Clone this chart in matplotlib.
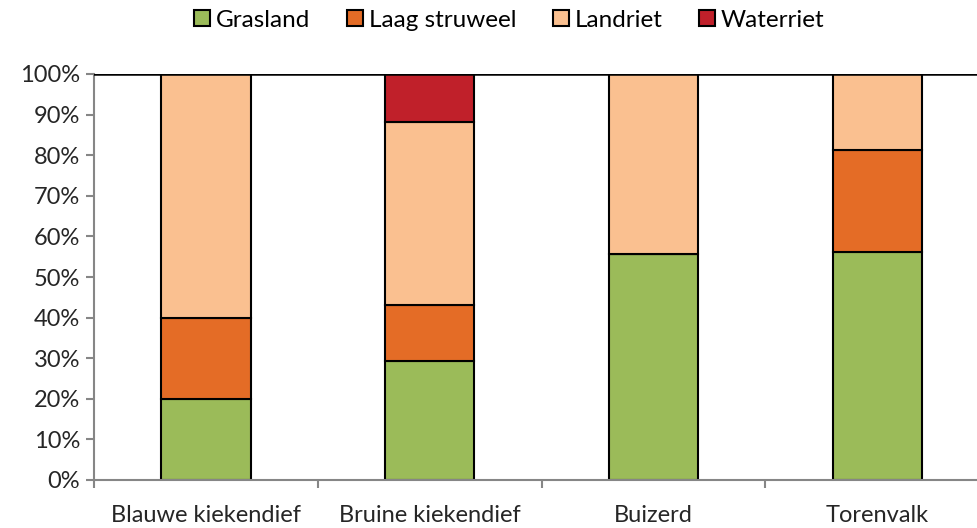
import matplotlib.pyplot as plt
import numpy as np

# Habitat use per roofvogel soort (percentage of observations)
soorten = ['Blauwe kiekendief', 'Bruine kiekendief', 'Buizerd', 'Torenvalk']
habitats = ['Grasland', 'Laag struweel', 'Landriet', 'Waterriet']
grasland = [20.0, 29.4, 55.6, 56.25]
laag_struweel = [20.0, 13.7, 0.0, 25.0]
landriet = [60.0, 45.1, 44.4, 18.75]
waterriet = [0.0, 11.8, 0.0, 0.0]

kleuren = ['#9BBB59', '#E46C26', '#FAC090', '#C0202A']

plt.rcParams['font.family'] = ['Lato', 'DejaVu Sans']

fig = plt.figure(figsize=(9.78, 5.28), dpi=100)
ax = fig.add_axes([94 / 978, 48 / 528, 884 / 978, 406 / 528])

x = np.arange(len(soorten))
onder = np.zeros(len(soorten))
for naam, waarden, kleur in zip(habitats, [grasland, laag_struweel, landriet, waterriet], kleuren):
    waarden = np.array(waarden)
    ax.bar(x, waarden, 0.4, bottom=onder, color=kleur, edgecolor='black',
           linewidth=1.5, label=naam)
    onder += waarden

ax.set_yticks(np.arange(0, 101, 10))
ax.set_yticklabels(['{}%'.format(v) for v in range(0, 101, 10)], fontsize=17, color='#262626')
ax.set_xticks(x)
ax.set_xticklabels(soorten, fontsize=17, color='#262626')
ax.set_xticks(np.arange(-0.5, 4, 1), minor=True)
# limits after the ticks, otherwise the minor ticks widen the view
ax.set_xlim(-0.5, 3.45)
ax.set_ylim(0, 100)
ax.tick_params(axis='x', which='major', length=0, pad=18)
ax.tick_params(axis='x', which='minor', length=6, color='#868686', width=1.5)
ax.tick_params(axis='y', length=6, color='#868686', width=1.5, pad=4)

# top line at 100%
ax.axhline(100, color='black', linewidth=1.8, zorder=3)

for kant in ['top', 'right']:
    ax.spines[kant].set_visible(False)
for kant in ['left', 'bottom']:
    ax.spines[kant].set_color('#868686')
    ax.spines[kant].set_linewidth(1.5)

ax.legend(loc='center', bbox_to_anchor=(0.47, 1.132), ncol=4, frameon=False,
          fontsize=17.5, handlelength=0.65, handleheight=0.65, handletextpad=0.25,
          columnspacing=1.5, borderaxespad=0, borderpad=0)

fig.savefig('out.png', dpi=100)
